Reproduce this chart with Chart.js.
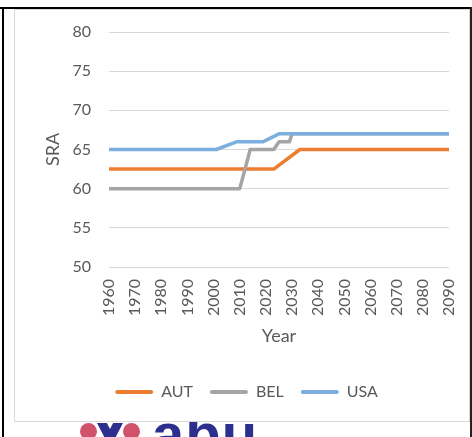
<!DOCTYPE html>
<html>
<head>
<meta charset="utf-8">
<script src="https://cdn.jsdelivr.net/npm/chart.js@4"></script>
<style>
  html, body { margin: 0; padding: 0; background: #fff; }
  body { width: 472px; height: 437px; position: relative; overflow: hidden; font-family: Lato, sans-serif; }
  .rule-top { position: absolute; left: 0; top: 7px; width: 472px; height: 2px; background: #000; }
  .rule-left { position: absolute; left: 2px; top: 7px; width: 2px; height: 430px; background: #000; }
  .rule-right { position: absolute; left: 470px; top: 7px; width: 2px; height: 430px; background: #222; }
  #box { position: absolute; left: 14px; top: 9px; width: 456px; height: 413px; box-sizing: border-box; border: 1px solid #d9d9d9; background: #fff; }
  #chart { position: absolute; left: 0; top: 0; }
  #logo { position: absolute; left: 0; top: 422px; width: 472px; height: 15px; overflow: hidden; }
  .dot { position: absolute; top: 1px; width: 17px; height: 17px; border-radius: 50%; background: #d1526b; }
  .vee { position: absolute; left: 97px; top: 1px; width: 26px; height: 20px; background: #2c2f8e;
         clip-path: polygon(0 0, 38% 0, 50% 30%, 62% 0, 100% 0, 60% 100%, 40% 100%); }
  .word { position: absolute; left: 152px; top: -17px; font: 900 58px "Liberation Sans", Arial, sans-serif; color: #2c2f8e; letter-spacing: 1px; line-height: 1; }
</style>
</head>
<body>
<div class="rule-top"></div>
<div class="rule-left"></div>
<div class="rule-right"></div>
<div id="box"><canvas id="chart" width="454" height="411"></canvas></div>
<div id="logo">
  <div class="dot" style="left:80px"></div>
  <div class="vee"></div>
  <div class="dot" style="left:123px"></div>
  <div class="word">abu</div>
</div>
<script>
// statutory retirement age, vertices of each series (year, age)
const autYears = [1960, 2023, 2033, 2090];
const autSRA = [62.5, 62.5, 65, 65];
const belYears = [1960, 2010, 2014, 2023, 2025, 2029, 2030, 2090];
const belSRA = [60, 60, 65, 65, 66, 66, 67, 67];
const usaYears = [1960, 2001, 2009, 2019, 2025, 2090];
const usaSRA = [65, 65, 66, 66, 67, 67];

const yearTicks = [1960, 1970, 1980, 1990, 2000, 2010, 2020, 2030, 2040, 2050, 2060, 2070, 2080, 2090];
const sraTicks = [50, 55, 60, 65, 70, 75, 80];

const textColor = '#595959';
const gridColor = '#d9d9d9';

function points(xs, ys) {
  return xs.map((x, i) => ({ x, y: ys[i] }));
}

function series(label, xs, ys, color, order) {
  return {
    label,
    data: points(xs, ys),
    borderColor: color,
    backgroundColor: color,
    borderWidth: 3.5,
    borderCapStyle: 'round',
    borderJoinStyle: 'round',
    pointRadius: 0,
    tension: 0,
    fill: false,
    order,
  };
}

// let the layout padding alone decide where the plot area sits
function noTickOverhang(scale) {
  scale.paddingTop = 0;
  scale.paddingBottom = 0;
  scale.paddingLeft = 0;
  scale.paddingRight = 0;
}

const ctx = document.getElementById('chart').getContext('2d');
new Chart(ctx, {
  type: 'line',
  data: {
    datasets: [
      series('AUT', autYears, autSRA, '#ED7D31', 2),
      series('BEL', belYears, belSRA, '#A5A5A5', 1),
      series('USA', usaYears, usaSRA, '#7CAFDD', 0),
    ],
  },
  options: {
    responsive: false,
    animation: false,
    layout: { padding: { left: 29, right: 20, top: 22, bottom: 11 } },
    scales: {
      x: {
        type: 'linear',
        min: yearTicks[0],
        max: yearTicks[yearTicks.length - 1],
        afterBuildTicks: (scale) => { scale.ticks = yearTicks.map(v => ({ value: v })); },
        afterFit: (scale) => { scale.height = 100; noTickOverhang(scale); },
        grid: { display: false, drawTicks: false },
        border: { display: false },
        ticks: {
          color: textColor,
          font: { family: 'Lato', size: 16 },
          minRotation: 90,
          maxRotation: 90,
          padding: 12,
          autoSkip: false,
          callback: (v) => String(v),
        },
        title: {
          display: true,
          text: 'Year',
          color: textColor,
          font: { family: 'Lato', size: 18 },
          padding: { top: 0, bottom: 20 },
        },
      },
      y: {
        min: sraTicks[0],
        max: sraTicks[sraTicks.length - 1],
        afterBuildTicks: (scale) => { scale.ticks = sraTicks.map(v => ({ value: v })); },
        afterFit: (scale) => { scale.width = 65; noTickOverhang(scale); },
        grid: { color: gridColor, lineWidth: 1, drawTicks: false },
        border: { display: false },
        ticks: {
          color: textColor,
          font: { family: 'Lato', size: 16 },
          padding: 18,
        },
        title: {
          display: true,
          text: 'SRA',
          color: textColor,
          font: { family: 'Lato', size: 18 },
          padding: { top: -2, bottom: 0 },
        },
      },
    },
    plugins: {
      legend: {
        position: 'bottom',
        labels: {
          color: textColor,
          font: { family: 'Lato', size: 16 },
          boxWidth: 38,
          boxHeight: 4,
          padding: 17,
          useBorderRadius: true,
          borderRadius: 2,
          sort: (a, b) => a.datasetIndex - b.datasetIndex,
          generateLabels: (chart) =>
            Chart.defaults.plugins.legend.labels.generateLabels(chart)
              .map(item => ({ ...item, lineWidth: 0 })),
        },
      },
      tooltip: { enabled: false },
    },
  },
});
</script>
</body>
</html>
